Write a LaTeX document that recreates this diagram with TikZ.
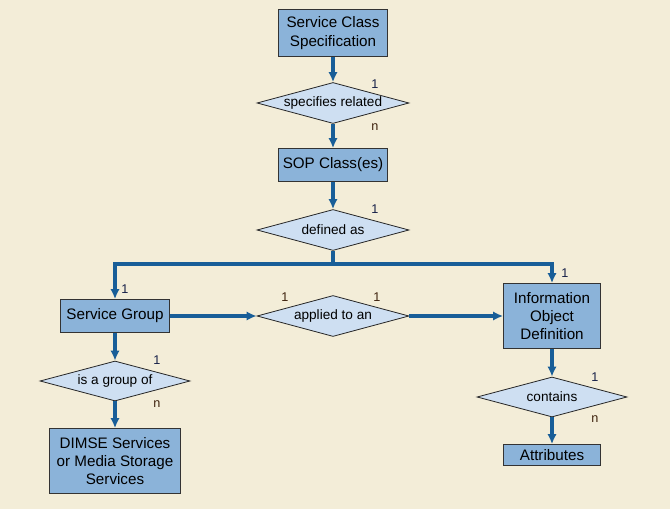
\documentclass[tikz,border=0pt]{standalone}
\usepackage{fontspec}
\setmainfont{Liberation Sans}
\usetikzlibrary{shapes.geometric,arrows.meta}

\definecolor{bgcol}{RGB}{243,237,216}
\definecolor{boxcol}{RGB}{139,179,217}
\definecolor{relcol}{RGB}{206,223,242}
\definecolor{linkcol}{RGB}{24,94,152}
\definecolor{onecol}{RGB}{22,32,72}
\definecolor{mancol}{RGB}{62,34,14}

\begin{document}
\begin{tikzpicture}[x=0.75pt,y=-0.75pt,
  entity/.style={draw=black!80,line width=0.6pt,fill=boxcol,align=center,
    inner sep=0pt,font=\fontsize{11.4}{13.8}\selectfont},
  relation/.style={diamond,draw=black!85,line width=0.6pt,fill=relcol,
    shape aspect=3.7,inner sep=0pt,inner xsep=-6pt,
    minimum width=114pt,minimum height=30.75pt,font=\fontsize{10.2}{12}\selectfont},
  link/.style={draw=linkcol,line width=2.6pt,-{Latex[length=7.5pt,width=7pt]}},
  card/.style={inner sep=0pt,font=\fontsize{9.5}{11}\selectfont}]

\fill[bgcol] (0,0) rectangle (670,509);
\useasboundingbox (0,0) rectangle (670,509);

% Entities
\node[entity,minimum width=81.75pt,minimum height=35.25pt] (scs) at (333,33) {Service Class\\Specification};
\node[entity,minimum width=81.75pt,minimum height=24.75pt] (sop) at (333,165) {SOP Class(es)};
\node[entity,minimum width=81.75pt,minimum height=24.75pt] (sg) at (115,316) {Service Group};
\node[entity,minimum width=72.75pt,minimum height=48.75pt] (iod) at (552,316) {Information\\Object\\Definition};
\node[entity,minimum width=98.25pt,minimum height=48.75pt] (dimse) at (115,461) {DIMSE Services\\or Media Storage\\Services};
\node[entity,minimum width=72.75pt,minimum height=15.75pt] (attr) at (552,455) {Attributes};

% Relations
\node[relation] (spec) at (333,103) {specifies related};
\node[relation] (def) at (333,230) {defined as};
\node[relation] (app) at (333,316) {applied to an};
\node[relation,minimum width=112.5pt,minimum height=30pt] (grp) at (115,381) {is a group of};
\node[relation,minimum width=112.5pt,minimum height=30pt] (cont) at (552,397) {contains};

% Links between them
\coordinate (split) at (333,264);
\draw[link] (scs) -- (spec);
\draw[link] (spec) -- (sop);
\draw[link] (sop) -- (def);
\draw[link,-] (def.south) -- (split);
\draw[link] (split) -| (sg.north);
\draw[link] (split) -| (iod.north);
\draw[link] (sg) -- (app);
\draw[link] (app) -- (iod);
\draw[link] (sg) -- (grp);
\draw[link] (grp) -- (dimse);
\draw[link] (iod) -- (cont);
\draw[link] (cont) -- (attr);

% Cardinalities
\node[card,text=onecol] (c1) at (375,84) {1};
\node[card,text=mancol] (c2) at (375,127) {n};
\node[card,text=onecol] (c3) at (375,209) {1};
\node[card,text=onecol] (c4) at (125,289) {1};
\node[card,text=onecol] (c5) at (565,273) {1};
\node[card,text=mancol] (c6) at (285,297) {1};
\node[card,text=mancol] (c7) at (377,297) {1};
\node[card,text=onecol] (c8) at (157,360) {1};
\node[card,text=mancol] (c9) at (157,404) {n};
\node[card,text=onecol] (c10) at (595,377) {1};
\node[card,text=mancol] (c11) at (595,419) {n};

\end{tikzpicture}
\end{document}
